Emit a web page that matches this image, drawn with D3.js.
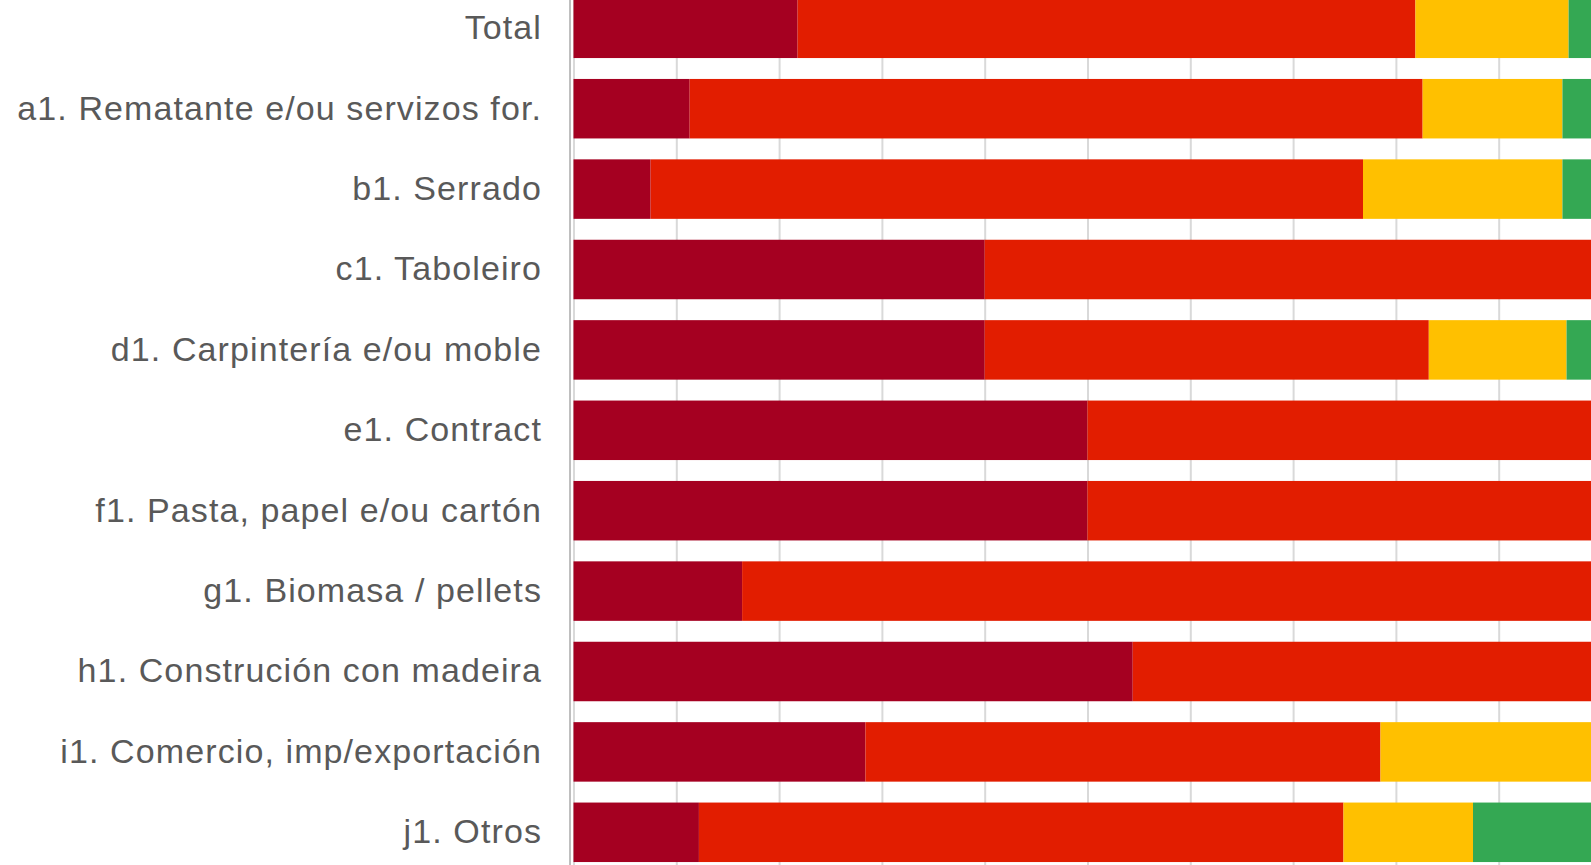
<!DOCTYPE html>
<html>
<head>
<meta charset="utf-8">
<script src="https://cdn.jsdelivr.net/npm/d3@7"></script>
<style>
  html, body { margin: 0; padding: 0; background: #ffffff; overflow: hidden; }
  svg { display: block; }
</style>
</head>
<body>
<svg id="chart" width="1591" height="865"></svg>
<script>
// ---- Data (percent shares) ----
const categories = [
  "Total",
  "a1. Rematante e/ou servizos for.",
  "b1. Serrado",
  "c1. Taboleiro",
  "d1. Carpintería e/ou moble",
  "e1. Contract",
  "f1. Pasta, papel e/ou cartón",
  "g1. Biomasa / pellets",
  "h1. Construción con madeira",
  "i1. Comercio, imp/exportación",
  "j1. Otros"
];
const seriesKeys = ["serie1", "serie2", "serie3", "serie4"];
const serie1 = [21.8, 11.3, 7.5, 40.0, 40.0, 50.0, 50.0, 16.4, 54.4, 28.4, 12.2];
const serie2 = [60.1, 71.3, 69.3, 60.0, 43.2, 50.0, 50.0, 83.6, 45.6, 50.1, 62.7];
const serie3 = [14.9, 13.6, 19.4, 0.0, 13.4, 0.0, 0.0, 0.0, 0.0, 21.5, 12.6];
const serie4 = [3.2, 3.8, 3.8, 0.0, 3.4, 0.0, 0.0, 0.0, 0.0, 0.0, 12.5];
const xTicks = [0, 10, 20, 30, 40, 50, 60, 70, 80, 90, 100];
const seriesColors = ["#A50021", "#E21D00", "#FFC000", "#34A853"];

// table built for d3.stack
const table = categories.map((c, i) => ({
  category: c,
  serie1: serie1[i], serie2: serie2[i], serie3: serie3[i], serie4: serie4[i]
}));

const svg = d3.select("#chart");
const W = 1591, H = 865;

const x = d3.scaleLinear().domain([0, 100]).range([573.5, 1601.5]);
const y = d3.scaleBand().domain(categories)
  .range([-11.9, 872.5]).paddingInner(0.26).paddingOuter(0.13);

// gridlines
const grid = svg.append("g").attr("transform", `translate(0,${H})`)
  .call(d3.axisBottom(x).tickValues(xTicks).tickSize(H).tickFormat(""));
grid.select(".domain").remove();
grid.selectAll(".tick line")
  .attr("y2", -H)
  .attr("stroke", "#d9d9d9")
  .attr("stroke-width", 2);

// stacked bars
const stack = d3.stack().keys(seriesKeys);
const stacked = stack(table);
const color = d3.scaleOrdinal().domain(seriesKeys).range(seriesColors);

svg.append("g").selectAll("g")
  .data(stacked)
  .join("g")
  .attr("fill", d => color(d.key))
  .selectAll("rect")
  .data(d => d)
  .join("rect")
  .attr("x", d => x(d[0]))
  .attr("y", d => y(d.data.category))
  .attr("width", d => Math.max(0, x(d[1]) - x(d[0])))
  .attr("height", y.bandwidth());

// category axis
const yAxis = svg.append("g").attr("transform", "translate(570,0)")
  .call(d3.axisLeft(y).tickSize(0).tickPadding(28));
yAxis.select(".domain").remove();
yAxis.selectAll("text")
  .attr("fill", "#595959")
  .style("font-family", "Liberation Sans, Arial, sans-serif")
  .style("font-size", "34px")
  .style("letter-spacing", "1.1px");

svg.append("line")
  .attr("x1", 570).attr("x2", 570)
  .attr("y1", 0).attr("y2", H)
  .attr("stroke", "#bfbfbf")
  .attr("stroke-width", 2);
</script>
</body>
</html>
